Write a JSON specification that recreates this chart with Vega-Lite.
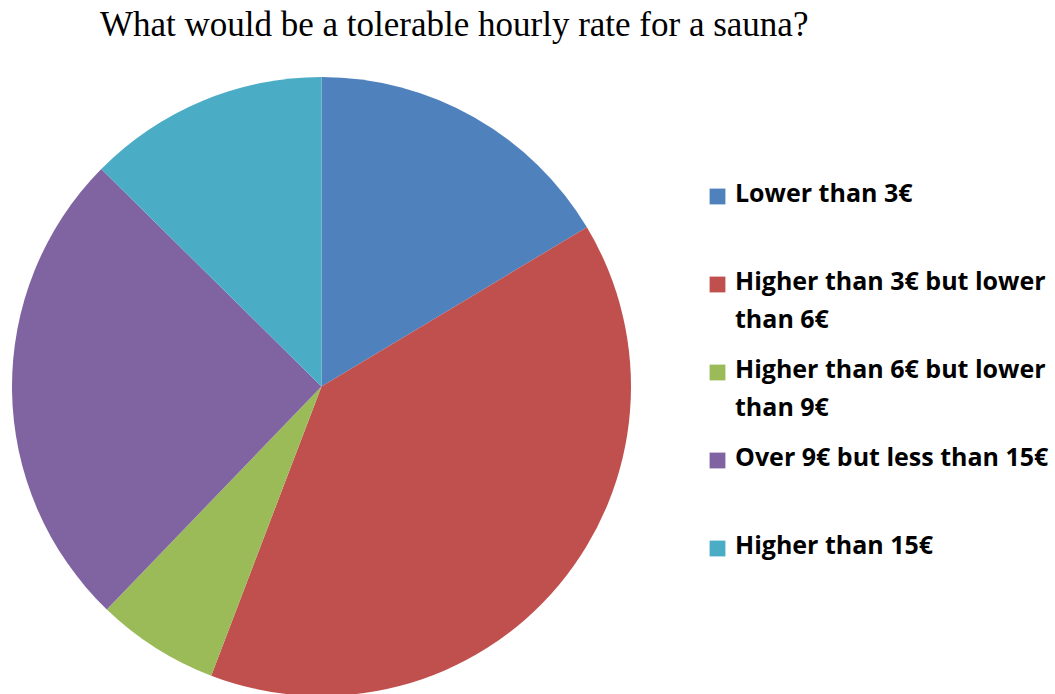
{
  "$schema": "https://vega.github.io/schema/vega-lite/v6.json",
  "autosize": "none",
  "padding": {"left": 12, "top": 77, "right": 425, "bottom": 0},
  "width": 619,
  "height": 619,
  "background": "white",
  "config": {
    "style": {"guide-label": {"lineHeight": 38, "dy": 5}}
  },
  "title": {
    "text": "What would be a tolerable hourly rate for a sauna?",
    "font": "Liberation Serif",
    "fontSize": 35,
    "fontWeight": "normal",
    "color": "#000000",
    "anchor": "start",
    "frame": "group",
    "baseline": "alphabetic",
    "dx": 88,
    "offset": 6
  },
  "data": {
    "values": [
      {"category": "Lower than 3€", "share": 16.4, "order": 1},
      {"category": "Higher than 3€ but lower than 6€", "share": 39.4, "order": 2},
      {"category": "Higher than 6€ but lower than 9€", "share": 6.4, "order": 3},
      {"category": "Over 9€ but less than 15€", "share": 25.2, "order": 4},
      {"category": "Higher than 15€", "share": 12.6, "order": 5}
    ]
  },
  "mark": {"type": "arc", "stroke": null},
  "encoding": {
    "theta": {"field": "share", "type": "quantitative", "stack": true},
    "order": {"field": "order", "type": "quantitative"},
    "color": {
      "field": "category",
      "type": "nominal",
      "sort": ["Lower than 3€", "Higher than 3€ but lower than 6€", "Higher than 6€ but lower than 9€", "Over 9€ but less than 15€", "Higher than 15€"],
      "scale": {
        "domain": ["Lower than 3€", "Higher than 3€ but lower than 6€", "Higher than 6€ but lower than 9€", "Over 9€ but less than 15€", "Higher than 15€"],
        "range": ["#4F81BD", "#C0504D", "#9BBB59", "#8064A2", "#4BACC6"]
      },
      "legend": {
        "title": null,
        "orient": "none",
        "legendX": 693,
        "legendY": 107,
        "gridAlign": "all",
        "symbolType": "square",
        "symbolSize": 250,
        "symbolStrokeWidth": 0,
        "symbolOpacity": 1,
        "labelFont": "Open Sans",
        "labelFontSize": 25,
        "labelFontWeight": "bold",
        "labelColor": "#000000",
        "labelBaseline": "alphabetic",
        "labelLimit": 400,
        "labelOffset": 5,
        "rowPadding": 24,
        "labelExpr": "datum.label == 'Higher than 3€ but lower than 6€' ? ['Higher than 3€ but lower', 'than 6€'] : datum.label == 'Higher than 6€ but lower than 9€' ? ['Higher than 6€ but lower', 'than 9€'] : datum.label"
      }
    }
  }
}
